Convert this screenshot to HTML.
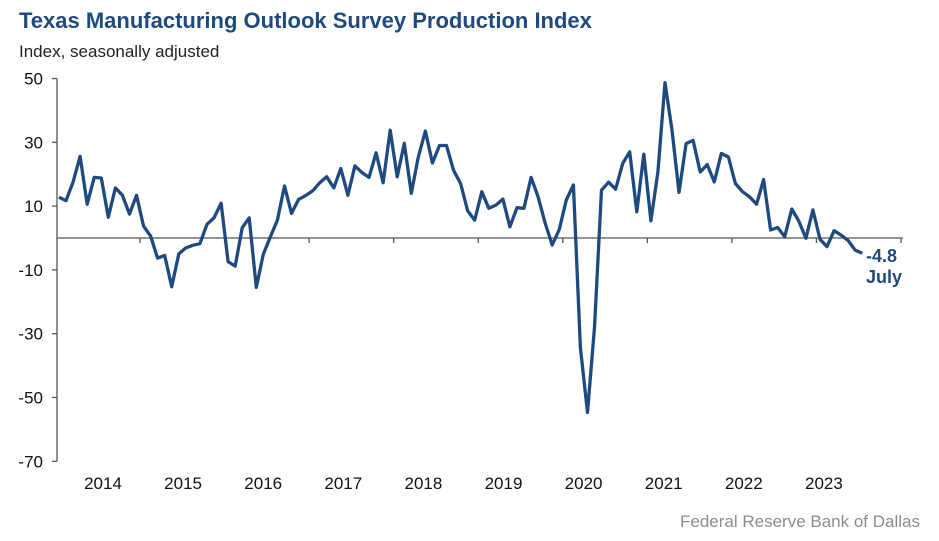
<!DOCTYPE html>
<html><head><meta charset="utf-8"><style>
body{margin:0;background:#fff;}
svg text{font-family:"Liberation Sans",Arial,sans-serif;}
</style></head><body>
<svg width="939" height="536" viewBox="0 0 939 536" xmlns="http://www.w3.org/2000/svg">
<text x="19" y="28" font-size="22" font-weight="bold" fill="#1f4a7e">Texas Manufacturing Outlook Survey Production Index</text>
<text x="19" y="57" font-size="17" fill="#222">Index, seasonally adjusted</text>
<g id="axes"></g>
<g id="series"></g>
<text x="866" y="262" font-size="18" font-weight="bold" fill="#1f4a7e">-4.8</text>
<text x="866" y="283" font-size="18" font-weight="bold" fill="#1f4a7e">July</text>
<text x="920" y="527" font-size="17" fill="#8c8c8c" text-anchor="end">Federal Reserve Bank of Dallas</text>
</svg>
<script>
const values = [12.8,11.7,17.6,25.6,10.6,19,18.8,6.5,15.7,13.4,7.5,13.4,3.7,0.6,-6.3,-5.5,-15.3,-5,-3.1,-2.3,-1.8,4.3,6.3,10.9,-7.4,-8.8,3.2,6.3,-15.5,-5.1,0.4,5.6,16.3,7.7,12.1,13.3,14.8,17.3,19.2,15.7,21.8,13.4,22.6,20.5,19,26.7,17.3,33.8,19.2,29.7,14,25.4,33.5,23.5,29,29,21.2,17.1,8.5,5.6,14.5,9.3,10.3,12.2,3.5,9.5,9.3,19,12.9,4.6,-2.2,2.7,11.9,16.6,-34.4,-54.7,-28,15,17.5,15.3,23.4,27,8.2,26.3,5.4,20.7,48.7,33.8,14.3,29.6,30.6,20.7,23,17.6,26.5,25.4,17.1,14.5,12.9,10.6,18.3,2.5,3.3,0.4,9.1,5.3,-0.1,8.8,-0.4,-2.7,2.3,0.9,-0.8,-3.8,-4.8];
const yTicks = [50,30,10,-10,-30,-50,-70];
const yearLabels = ["2014","2015","2016","2017","2018","2019","2020","2021","2022","2023"];
const NS="http://www.w3.org/2000/svg";
const x0=59, step=7.046;
function xPos(i){return x0+i*step;}
function yPos(v){return 238-v*3.19;}
function mk(tag,attrs,parent){const e=document.createElementNS(NS,tag);for(const k in attrs)e.setAttribute(k,attrs[k]);parent.appendChild(e);return e;}
const axes=document.getElementById('axes');
const va=mk('line',{x1:57,x2:57,y1:yPos(50),y2:yPos(-70),stroke:'#555','stroke-width':1.3},axes);


yTicks.forEach(v=>{
  const t=mk('line',{x1:52,x2:57,y1:yPos(v),y2:yPos(v),stroke:'#555','stroke-width':1.3},axes);
  
  
  const l=mk('text',{x:43,y:yPos(v)+6,'font-size':17,'text-anchor':'end',fill:'#111'},axes);
  l.textContent=v;
  
  
});
const za=mk('line',{x1:57,x2:903,y1:yPos(0),y2:yPos(0),stroke:'#555','stroke-width':1.3},axes);


yearLabels.forEach((y,k)=>{
  const tx=xPos(11.5+12*k);
  const t=mk('line',{x1:tx,x2:tx,y1:yPos(0),y2:yPos(0)+5,stroke:'#555','stroke-width':1.3},axes);
  
  
  const l=mk('text',{x:103+k*80.1,y:489,'font-size':17,'text-anchor':'middle',fill:'#111'},axes);
  l.textContent=y;
  
  
});
const pts=values.map((v,i)=>xPos(i).toFixed(1)+','+yPos(v).toFixed(1)).join(' ');
const line=mk('polyline',{points:pts,fill:'none',stroke:'#1f4a80','stroke-width':3.3,'stroke-linejoin':'round'},document.getElementById('series'));


</script>
</body></html>
